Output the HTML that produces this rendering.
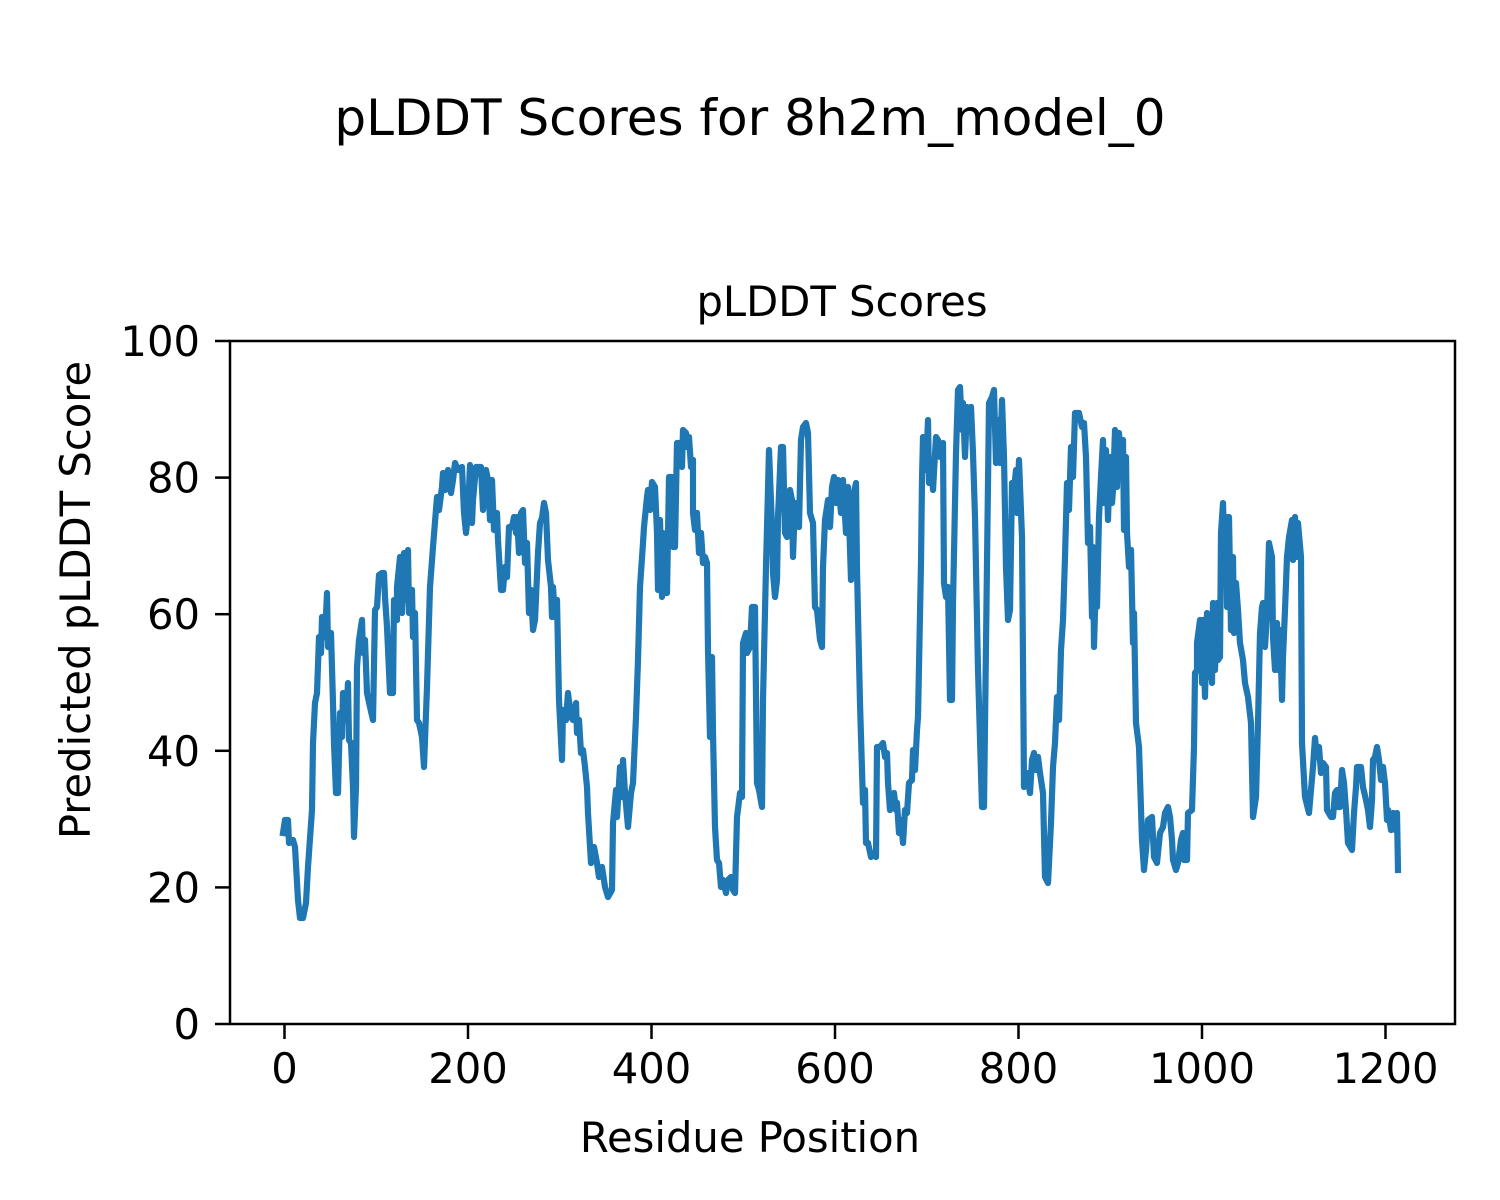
<!DOCTYPE html>
<html><head><meta charset="utf-8"><style>
html,body{margin:0;padding:0;background:#fff;}
svg{display:block;}
text{font-family:"DejaVu Sans","Liberation Sans",sans-serif;fill:#000;}
</style></head><body>
<svg width="1500" height="1200" viewBox="0 0 1500 1200" xmlns="http://www.w3.org/2000/svg">
<rect width="1500" height="1200" fill="#fff"/>
<text x="750" y="135" font-size="50" text-anchor="middle">pLDDT Scores for 8h2m_model_0</text>
<text x="842" y="316" font-size="41.7" text-anchor="middle">pLDDT Scores</text>
<polyline fill="none" stroke="#1f77b4" stroke-width="6.2" stroke-linejoin="round" stroke-linecap="square" points="
283,833 285,820 288,820 289,843 293,840 295,847 298,900 300,918 303,918 306,903 308,867 312,810 313,743 315,703 317,693 319,637 321,653 322,617 325,637 327,593 328,647 331,633 333,703 334,743 336,793 338,793 340,713 342,737 343,693 345,697 346,720 348,683 349,740 351,743 353,787 354,837 356,787 357,667 359,640 362,620 363,653 365,640 367,693 370,707 373,720 375,610 377,607 379,575 382,573 384,573 385,597 387,627 390,693 393,693 394,600 397,620 397,587 400,557 402,613 404,553 406,600 408,550 409,613 412,590 413,637 415,613 417,720 419,723 422,737 424,767 427,687 430,587 433,547 437,497 439,510 442,487 443,473 445,490 448,470 451,493 453,480 455,463 458,470 462,467 464,513 466,533 468,513 470,465 472,523 473,500 476,467 478,467 481,467 483,510 486,470 488,480 490,520 492,480 494,530 497,513 498,540 501,590 503,590 505,567 507,577 509,527 512,527 514,517 516,533 517,517 519,553 521,513 523,510 525,563 527,543 529,613 531,590 533,630 535,620 538,553 540,523 542,518 544,503 546,513 548,560 551,587 552,617 553,587 555,617 557,600 559,700 562,760 563,710 566,720 568,693 571,717 573,720 576,703 577,733 579,720 581,753 583,750 585,767 587,787 588,813 591,863 594,847 597,863 599,877 602,867 605,887 608,897 612,890 613,823 616,790 617,817 620,767 622,797 623,760 625,793 628,827 631,793 633,783 636,717 638,660 640,587 643,543 644,527 647,497 648,490 650,510 652,482 655,487 657,533 658,590 660,520 662,597 663,533 665,593 667,593 669,477 672,477 673,547 675,547 677,443 680,443 682,467 683,430 686,433 687,447 689,437 691,467 693,460 693,513 695,530 697,513 699,553 701,533 703,563 705,557 707,563 708,650 710,737 712,657 713,733 715,827 717,860 719,863 721,887 723,880 726,893 728,880 731,877 733,890 735,893 737,817 740,793 742,797 743,643 746,633 747,653 750,647 752,607 755,607 757,783 759,790 762,807 763,700 766,567 769,450 772,527 773,573 775,597 777,580 778,517 781,447 783,447 785,533 787,537 790,490 792,500 793,557 795,503 797,523 799,527 801,440 803,427 806,423 808,433 810,513 813,523 815,607 817,610 820,640 822,647 823,567 825,520 828,500 830,527 832,487 834,477 836,503 838,480 841,513 843,480 846,533 848,487 851,580 853,497 856,483 857,570 860,703 863,803 865,790 866,843 868,843 871,857 874,853 876,857 877,747 880,747 883,743 885,757 887,753 888,783 890,810 893,803 894,793 896,810 897,803 899,833 901,820 903,843 905,810 907,813 909,783 912,780 913,750 915,770 917,730 918,717 921,563 922,480 923,437 926,470 928,420 929,483 932,470 933,490 936,437 938,440 940,457 943,443 944,583 946,597 948,587 950,700 952,700 953,603 956,453 958,390 960,387 962,430 963,403 965,457 967,407 968,430 971,407 973,453 975,517 978,670 982,807 984,807 987,563 989,403 992,397 994,390 996,463 998,420 1000,463 1002,400 1004,457 1006,567 1008,620 1010,610 1012,483 1014,490 1016,470 1017,513 1019,460 1022,537 1024,787 1027,773 1030,793 1032,760 1034,753 1036,770 1038,757 1040,773 1043,793 1045,877 1048,883 1051,823 1053,767 1055,743 1057,697 1059,720 1061,650 1063,620 1065,557 1067,483 1069,510 1071,447 1073,477 1075,413 1079,413 1082,427 1084,423 1086,457 1088,543 1090,527 1092,617 1093,547 1094,647 1096,577 1097,607 1099,517 1101,477 1103,440 1104,503 1106,450 1108,520 1110,457 1112,503 1113,490 1115,430 1117,487 1119,433 1121,470 1123,440 1124,530 1126,457 1127,533 1129,567 1131,550 1133,643 1134,613 1136,723 1139,747 1142,840 1144,870 1146,850 1148,820 1152,817 1154,857 1157,863 1160,833 1163,827 1165,813 1168,807 1170,817 1172,840 1173,860 1176,870 1178,863 1181,840 1183,833 1184,860 1187,860 1188,813 1192,810 1194,747 1195,673 1197,670 1197,643 1200,620 1202,683 1203,620 1205,697 1207,613 1208,677 1210,620 1212,683 1213,603 1215,670 1217,603 1218,660 1220,657 1221,533 1223,503 1224,537 1226,517 1227,607 1229,517 1231,630 1233,557 1234,633 1236,583 1238,610 1240,643 1243,660 1245,683 1248,697 1251,723 1253,817 1256,797 1258,723 1260,633 1262,607 1263,603 1265,647 1267,613 1269,543 1272,557 1273,637 1275,670 1277,623 1278,670 1280,630 1282,700 1283,657 1285,610 1287,557 1289,537 1292,520 1293,560 1295,517 1297,557 1298,523 1301,557 1302,743 1305,797 1309,813 1313,767 1315,738 1317,757 1319,747 1321,773 1323,763 1326,767 1327,810 1331,817 1333,817 1335,793 1337,790 1338,807 1340,807 1342,770 1344,783 1346,810 1348,843 1352,850 1354,813 1356,787 1357,767 1361,767 1363,787 1366,800 1368,810 1370,827 1372,800 1373,760 1375,757 1377,747 1379,760 1381,780 1383,767 1385,783 1387,820 1388,810 1391,830 1393,813 1395,830 1397,813 1398,870"/>
<rect x="230" y="341" width="1225" height="683" fill="none" stroke="#000" stroke-width="2.5"/>
<g stroke="#000" stroke-width="2.5">
<line x1="284.5" y1="1024" x2="284.5" y2="1039"/>
<line x1="468" y1="1024" x2="468" y2="1039"/>
<line x1="651.5" y1="1024" x2="651.5" y2="1039"/>
<line x1="835" y1="1024" x2="835" y2="1039"/>
<line x1="1018.5" y1="1024" x2="1018.5" y2="1039"/>
<line x1="1202" y1="1024" x2="1202" y2="1039"/>
<line x1="1385.5" y1="1024" x2="1385.5" y2="1039"/>
<line x1="215" y1="1024" x2="230" y2="1024"/>
<line x1="215" y1="887.4" x2="230" y2="887.4"/>
<line x1="215" y1="750.8" x2="230" y2="750.8"/>
<line x1="215" y1="614.2" x2="230" y2="614.2"/>
<line x1="215" y1="477.6" x2="230" y2="477.6"/>
<line x1="215" y1="341" x2="230" y2="341"/>
</g>
<g font-size="41.7" text-anchor="middle">
<text x="284.5" y="1083">0</text>
<text x="468" y="1083">200</text>
<text x="651.5" y="1083">400</text>
<text x="835" y="1083">600</text>
<text x="1018.5" y="1083">800</text>
<text x="1202" y="1083">1000</text>
<text x="1385.5" y="1083">1200</text>
</g>
<g font-size="41.7" text-anchor="end">
<text x="200" y="1039">0</text>
<text x="200" y="902.4">20</text>
<text x="200" y="765.8">40</text>
<text x="200" y="629.2">60</text>
<text x="200" y="492.6">80</text>
<text x="200" y="356">100</text>
</g>
<text x="750" y="1152" font-size="41.7" text-anchor="middle">Residue Position</text>
<text transform="translate(90,600) rotate(-90)" font-size="41.7" text-anchor="middle">Predicted pLDDT Score</text>
</svg>
</body></html>
